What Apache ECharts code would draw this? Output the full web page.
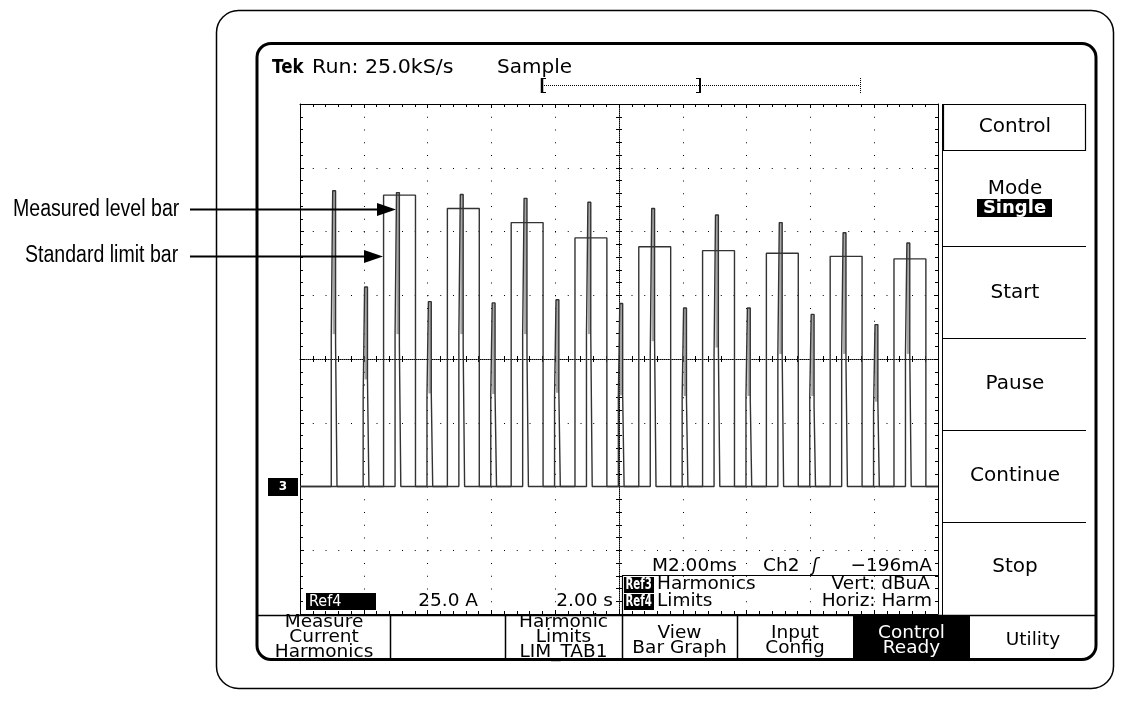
<!DOCTYPE html>
<html><head><meta charset="utf-8">
<script src="https://cdn.jsdelivr.net/npm/echarts@6/dist/echarts.min.js"></script>
<style>html,body{margin:0;padding:0;background:#fff}#c{width:1124px;height:719px}</style>
</head><body><div id="c"></div>
<script>
// ---- data ----
const harmonicOrders = [1,2,3,4,5,6,7,8,9,10,11,12,13,14,15,16,17,18,19];
const measuredLevels = [46.4,31.3,46.1,29.0,45.8,28.8,45.2,29.3,44.6,28.7,43.6,28.0,42.6,28.0,41.4,27.0,39.8,25.4,38.2];
const stepLevelsLeft = [23.9,14.2,23.9,14.2,23.9,14.4,23.9,14.2,23.9,14.2,20.8,14.2,20.8,14.2,20.8,14.2,20.8,12.0,20.8];
const stepLevelsRight = [22.5,16.8,22.1,14.6,21.9,14.5,21.2,14.7,23.9,14.3,22.8,13.6,21.8,13.6,20.8,12.5,19.7,13.3,20.8];
const limitOrders = [3,5,7,9,11,13,15,17,19];
const limitLevels = [45.7,43.6,41.4,39.0,37.6,37.0,36.6,36.1,35.7];
const sideMenu = ['Control','Mode','Start','Pause','Continue','Stop'];
const bottomMenu = [['Measure','Current','Harmonics'],[],['Harmonic','Limits','LIM_TAB1'],['View','Bar Graph'],['Input','Config'],['Control','Ready'],['Utility']];

// ---- layout constants ----
const X_MIN = -0.07, X_MAX = 19.93, Y_MIN = -20, Y_MAX = 60;
const SPIKE_HALF = 0.045, STEP_HALF = 0.09, BOX_L = 0.45, BOX_R = 0.55;
const TRACE = '#333';
const FONT = '"DejaVu Sans", Verdana, sans-serif';
const NOTE_FONT = '"Liberation Sans", Arial, sans-serif';

const harmonicTrace = [[X_MIN, 0]];
harmonicOrders.forEach((h, i) => {
  harmonicTrace.push([h - STEP_HALF, 0], [h - STEP_HALF, stepLevelsLeft[i]], [h - SPIKE_HALF, stepLevelsLeft[i]],
    [h - SPIKE_HALF, measuredLevels[i]], [h + SPIKE_HALF, measuredLevels[i]], [h + SPIKE_HALF, stepLevelsRight[i]],
    [h + STEP_HALF, stepLevelsRight[i]], [h + STEP_HALF, 0]);
});
harmonicTrace.push([X_MAX, 0]);
const limitTrace = [[X_MIN, 0]];
limitOrders.forEach((h, i) => {
  limitTrace.push([h - BOX_L, 0], [h - BOX_L, limitLevels[i]], [h + BOX_R, limitLevels[i]], [h + BOX_R, 0]);
});
limitTrace.push([X_MAX, 0]);

const blk = '#000';
function divAxis(extra) {
  return Object.assign({
    type: 'value', min: -5, max: 5, interval: 1, gridIndex: 0,
    axisLabel: { show: false }, splitLine: { show: false },
    axisLine: { show: true, onZero: false, lineStyle: { color: blk, width: 1 } },
    axisTick: { show: true, inside: true, length: 4, lineStyle: { color: blk } },
    minorTick: { show: true, splitNumber: 5, length: 3, lineStyle: { color: blk } }
  }, extra);
}
const xAxes = [
  divAxis({ position: 'bottom', axisLine: { show: true, onZero: true, onZeroAxisIndex: 0, lineStyle: { color: blk, type: [1, 1] } },
    axisTick: { show: true, inside: true, length: 3, lineStyle: { color: blk } },
    splitLine: { show: true, lineStyle: { color: blk, width: 1, type: [1, 11.75] } } }),
  divAxis({ position: 'top', axisLine: { show: false, onZero: true, onZeroAxisIndex: 0 },
    axisTick: { show: true, inside: true, length: 3, lineStyle: { color: blk } } }),
  divAxis({ position: 'top' }),
  divAxis({ position: 'bottom' }),
  { type: 'value', min: X_MIN, max: X_MAX, show: false, gridIndex: 0 }
];
function divAxisY(extra) {
  const a = divAxis(extra); a.min = -4; a.max = 4; return a;
}
const yAxes = [
  divAxisY({ position: 'left', axisLine: { show: true, onZero: true, onZeroAxisIndex: 0, lineStyle: { color: blk, type: [1, 1] } },
    axisTick: { show: true, inside: true, length: 3, lineStyle: { color: blk } },
    splitLine: { show: true, lineStyle: { color: blk, width: 1, type: [1, 11.75] } } }),
  divAxisY({ position: 'right', axisLine: { show: false, onZero: true, onZeroAxisIndex: 0 },
    axisTick: { show: true, inside: true, length: 3, lineStyle: { color: blk } } }),
  divAxisY({ position: 'left' }),
  divAxisY({ position: 'right' }),
  { type: 'value', min: Y_MIN, max: Y_MAX, show: false, gridIndex: 0 }
];

// ---- decorations (graphic) ----
const g = [];
function txt(text, x, y, opt) {
  opt = opt || {};
  g.push({ type: 'text', z: 50, silent: true, x: x, y: y, scaleX: opt.sx || 1, style: {
    text, x: 0, y: 0, fill: opt.fill || '#000', font: opt.font || ('18px ' + FONT),
    textAlign: opt.align || 'left', textVerticalAlign: 'middle' } });
}
function line(x1, y1, x2, y2, w, dash, color) {
  g.push({ type: 'line', z: 40, silent: true, shape: { x1, y1, x2, y2 },
    style: { stroke: color || '#000', lineWidth: w || 1, lineDash: dash || null } });
}
function rect(x, y, w, h, fill, stroke, lw, r) {
  g.push({ type: 'rect', z: 30, silent: true, shape: { x, y, width: w, height: h, r: r || 0 },
    style: { fill: fill || 'none', stroke: stroke || null, lineWidth: lw || 1 } });
}
// bezels
rect(216.5, 10.5, 897, 678, 'none', '#000', 1.5, 22);
rect(257, 43.5, 839, 616, 'none', '#000', 3, 14);
// header
txt('Tek', 272, 68, { font: 'bold 19px ' + FONT, sx: 0.88 });
txt('Run: 25.0kS/s', 312, 68, { font: '20px ' + FONT, sx: 1.03 });
txt('Sample', 497, 68, { font: '20px ' + FONT });
line(542, 78, 542, 93, 2.5); line(542, 78.5, 546, 78.5, 1); line(542, 92.5, 546, 92.5, 1);
line(544, 85.5, 860, 85.5, 1, [1, 1]);
line(700, 78, 700, 93, 2); line(696, 78.5, 700, 78.5, 1); line(696, 92.5, 700, 92.5, 1);
line(860.5, 78, 860.5, 93, 1, [1, 1]);
// annotations
txt('Measured level bar', 13, 210, { font: '23px ' + NOTE_FONT, sx: 0.85 });
txt('Standard limit bar', 25, 256, { font: '23px ' + NOTE_FONT, sx: 0.85 });
line(190, 209.5, 380, 209.5, 2);
g.push({ type: 'polygon', z: 41, silent: true, shape: { points: [[377, 203], [396, 209.5], [377, 216]] }, style: { fill: '#000' } });
line(190, 256.5, 367, 256.5, 2);
g.push({ type: 'polygon', z: 41, silent: true, shape: { points: [[364, 250], [383, 256.5], [364, 263]] }, style: { fill: '#000' } });
// reference marker
rect(268, 478, 30, 18, '#000');
txt('3', 283, 487, { fill: '#fff', font: 'bold 12px ' + FONT, align: 'center' });
// side menu
line(942.5, 104, 942.5, 615, 1);
rect(943.5, 104.5, 142, 46, 'none', '#000', 1.2);
[246, 338, 430, 522].forEach(y => line(943, y + 0.5, 1086, y + 0.5, 1.2));
const sideY = [127, 189, 293, 384, 476, 567];
sideMenu.forEach((t, i) => txt(t, 1015, sideY[i], { align: 'center', font: '20px ' + FONT }));
rect(977, 199, 75, 18, '#000');
txt('Single', 1014.5, 208, { align: 'center', fill: '#fff', font: 'bold 18px ' + FONT });
// readouts
txt('M2.00ms', 652, 566, { font: '18.5px ' + FONT });
txt('Ch2', 763, 566, { font: '18.5px ' + FONT });
txt('\u0283', 812, 566, { font: 'italic 18px ' + FONT });
txt('\u2212196mA', 932, 566, { font: '18.5px ' + FONT, align: 'right' });
line(622, 575.5, 938, 575.5, 1.2); line(622.5, 575, 622.5, 614, 1.2);
rect(624, 577, 30, 16, '#000'); rect(624, 594, 30, 16, '#000');
txt('Ref3', 625.5, 585, { fill: '#fff', font: 'bold 15px ' + FONT, sx: 0.68 });
txt('Ref4', 625.5, 602, { fill: '#fff', font: 'bold 15px ' + FONT, sx: 0.68 });
txt('Harmonics', 657, 584, { font: '18.5px ' + FONT });
txt('Limits', 657, 601, { font: '18.5px ' + FONT });
txt('Vert: dBuA', 930, 584, { font: '18.5px ' + FONT, align: 'right' });
txt('Horiz: Harm', 932, 601, { font: '18.5px ' + FONT, align: 'right' });
rect(306, 593, 70, 17, '#000');
txt('Ref4', 309, 601.5, { fill: '#fff', font: '16px ' + FONT, sx: 0.9 });
txt('25.0 A', 478, 601, { font: '18.5px ' + FONT, align: 'right' });
txt('2.00 s', 613, 601, { font: '18.5px ' + FONT, align: 'right' });
// bottom softkeys
line(258, 615.5, 1096, 615.5, 1.5);
const sepX = [258, 390, 505, 622, 737, 853, 970, 1096];
[390, 505, 622, 737].forEach(x => line(x + 0.5, 615, x + 0.5, 659, 1.5));
rect(853, 615, 117, 45, '#000');
bottomMenu.forEach((lines, i) => {
  const cx = (sepX[i] + sepX[i + 1]) / 2;
  const n = lines.length;
  const top = n === 3 ? 622 : (n === 2 ? 633 : 640);
  lines.forEach((t, j) => txt(t, cx, top + j * 15, { align: 'center', fill: i === 5 ? '#fff' : '#000', font: '18.5px ' + FONT }));
});

const option = {
  animation: false,
  backgroundColor: '#fff',
  grid: { left: 300, top: 104, width: 638, height: 510, show: false },
  xAxis: xAxes,
  yAxis: yAxes,
  series: [
    { type: 'custom', name: 'fill', xAxisIndex: 4, yAxisIndex: 4, z: 3,
      data: harmonicOrders.map((h, i) => [h, Math.max(stepLevelsLeft[i], stepLevelsRight[i]), measuredLevels[i]]),
      renderItem: (params, api) => {
        const top = api.coord([api.value(0), api.value(2)]);
        const bot = api.coord([api.value(0), api.value(1)]);
        const w = api.size([SPIKE_HALF * 2, 0])[0];
        return { type: 'rect', shape: { x: top[0] - w / 2, y: top[1], width: w, height: bot[1] - top[1] }, style: { fill: '#a6a6a6' } };
      } },
    { type: 'line', name: 'Ref4 Limits', xAxisIndex: 4, yAxisIndex: 4, z: 4, data: limitTrace, symbol: 'none',
      lineStyle: { color: TRACE, width: 1.4 }, clip: false },
    { type: 'line', name: 'Ref3 Harmonics', xAxisIndex: 4, yAxisIndex: 4, z: 5, data: harmonicTrace, symbol: 'none',
      lineStyle: { color: TRACE, width: 1.4 }, clip: false }
  ],
  graphic: g
};
const chart = echarts.init(document.getElementById('c'), null, { renderer: 'canvas' });
chart.setOption(option);
</script></body></html>
